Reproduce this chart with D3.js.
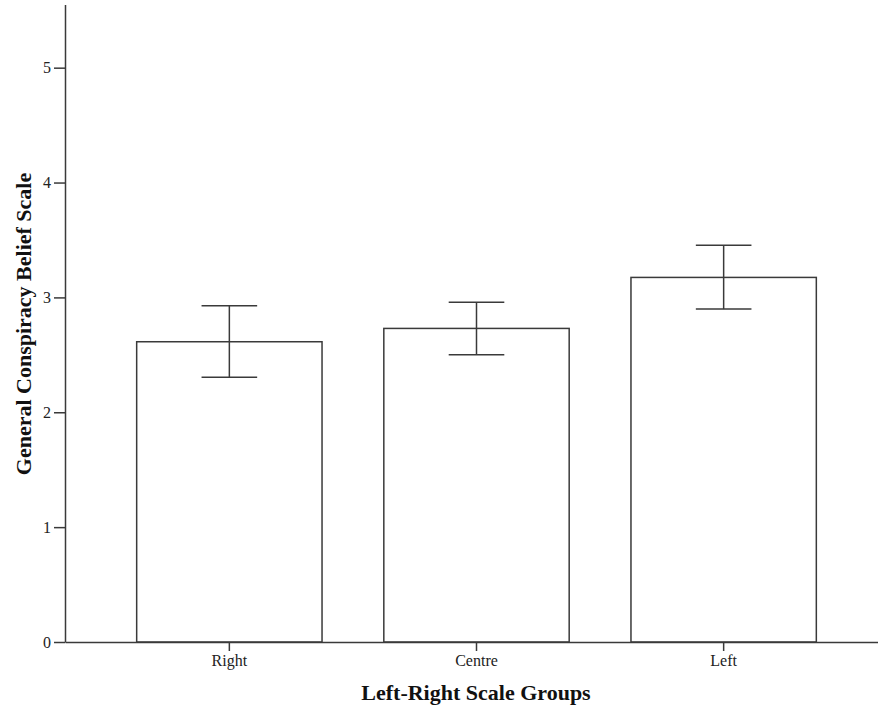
<!DOCTYPE html>
<html>
<head>
<meta charset="utf-8">
<script src="https://cdn.jsdelivr.net/npm/d3@7"></script>
<style>
  body { margin: 0; background: #fff; }
  svg { display: block; }
  .tick text { font-family: "Liberation Serif", "Times New Roman", serif; fill: #222; }
  .title { font-family: "Liberation Serif", "Times New Roman", serif; font-weight: bold; fill: #111; }
</style>
</head>
<body>
<div id="chart"></div>
<script>
// data
const groups = ["Right", "Centre", "Left"];
const means = [2.614, 2.730, 3.174];
const upper = [2.927, 2.957, 3.455];
const lower = [2.304, 2.501, 2.898];
const yTicks = [0, 1, 2, 3, 4, 5];

const width = 878, height = 710;
const lineColor = "#3a3a3a";

const svg = d3.select("#chart")
  .append("svg")
  .attr("width", width)
  .attr("height", height);

const x = d3.scaleBand()
  .domain(groups)
  .range([65, 888])
  .paddingInner(0.25)
  .paddingOuter(0.29);

const y = d3.scaleLinear()
  .domain([0, 5.55])
  .range([642, 4.5]);

// bars
svg.selectAll(".bar")
  .data(groups)
  .enter()
  .append("rect")
  .attr("class", "bar")
  .attr("x", d => x(d))
  .attr("y", (d, i) => y(means[i]))
  .attr("width", x.bandwidth())
  .attr("height", (d, i) => y(0) - y(means[i]))
  .attr("fill", "#fff")
  .attr("stroke", lineColor)
  .attr("stroke-width", 1.5);

// error bars
let capW = x.bandwidth() * 0.3;
let err = svg.selectAll(".err")
  .data(groups)
  .enter()
  .append("g")
  .attr("class", "err")
  .attr("stroke", lineColor)
  .attr("stroke-width", 1.5);

err.append("line")
  .attr("x1", d => x(d) + x.bandwidth() / 2)
  .attr("x2", d => x(d) + x.bandwidth() / 2)
  .attr("y1", (d, i) => y(lower[i]))
  .attr("y2", (d, i) => y(upper[i]));

err.append("line")
  .attr("x1", d => x(d) + x.bandwidth() / 2 - capW / 2)
  .attr("x2", d => x(d) + x.bandwidth() / 2 + capW / 2)
  .attr("y1", (d, i) => y(upper[i]))
  .attr("y2", (d, i) => y(upper[i]));

err.append("line")
  .attr("x1", d => x(d) + x.bandwidth() / 2 - capW / 2)
  .attr("x2", d => x(d) + x.bandwidth() / 2 + capW / 2)
  .attr("y1", (d, i) => y(lower[i]))
  .attr("y2", (d, i) => y(lower[i]));

// axes
let xAxis = d3.axisBottom(x).tickSize(9).tickSizeOuter(0).tickPadding(4);
let yAxis = d3.axisLeft(y)
  .tickValues(yTicks)
  .tickFormat(d3.format("d"))
  .tickSize(11)
  .tickSizeOuter(0)
  .tickPadding(3);

let gx = svg.append("g")
  .attr("transform", "translate(0," + y(0) + ")")
  .call(xAxis);
gx.selectAll("text").style("font-size", "16px");

let gy = svg.append("g")
  .attr("transform", "translate(65,0)")
  .call(yAxis);
gy.selectAll("text").style("font-size", "16px");

svg.selectAll(".domain, .tick line")
  .attr("stroke", lineColor)
  .attr("stroke-width", 1.5);

// titles
svg.append("text")
  .attr("class", "title")
  .attr("x", 476)
  .attr("y", 700)
  .attr("text-anchor", "middle")
  .style("font-size", "22px")
  .text("Left-Right Scale Groups");

svg.append("text")
  .attr("class", "title")
  .attr("transform", "translate(31,324) rotate(-90)")
  .attr("text-anchor", "middle")
  .style("font-size", "22px")
  .text("General Conspiracy Belief Scale");
</script>
</body>
</html>
